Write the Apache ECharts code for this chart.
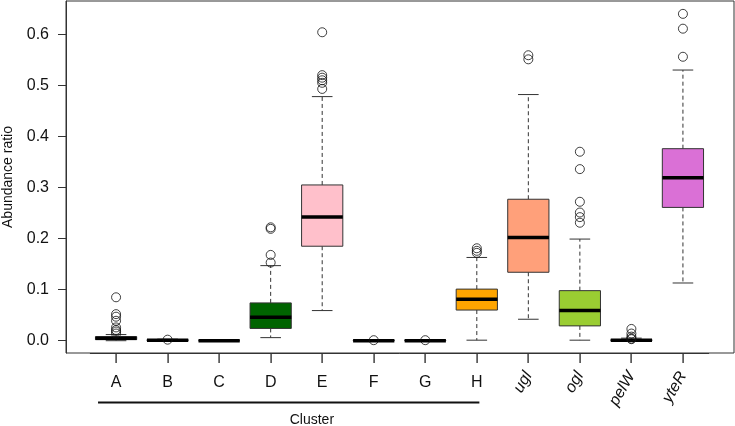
<!DOCTYPE html>
<html>
<head>
<meta charset="utf-8">
<script src="https://cdn.jsdelivr.net/npm/echarts@6/dist/echarts.min.js"></script>
<style>
  html, body { margin: 0; padding: 0; background: #fff; }
  #chart { width: 735px; height: 426px; }
</style>
</head>
<body>
<div id="chart"></div>
<script>
// categories and box statistics
const categories = ['A', 'B', 'C', 'D', 'E', 'F', 'G', 'H', 'ugl', 'ogl', 'pelW', 'yteR'];
const italicCats = ['ugl', 'ogl', 'pelW', 'yteR'];
const lowerWhisker = [0, 0, 0, 0.006, 0.059, 0, 0, 0.001, 0.042, 0.001, 0, 0.113];
const q1 =           [0.002, 0, 0, 0.024, 0.185, 0, 0, 0.060, 0.134, 0.029, 0, 0.261];
const medians =      [0.005, 0.001, 0, 0.046, 0.242, 0, 0, 0.081, 0.202, 0.059, 0.001, 0.319];
const q3 =           [0.008, 0.002, 0, 0.074, 0.305, 0.001, 0.001, 0.101, 0.277, 0.098, 0.002, 0.376];
const upperWhisker = [0.012, 0.003, 0, 0.147, 0.478, 0.001, 0.001, 0.163, 0.482, 0.199, 0.005, 0.530];
const boxColors = ['#ffffff', '#ffffff', '#ffffff', '#006400', '#ffc0cb', '#ffffff', '#ffffff',
                   '#ffa500', '#ffa07a', '#9acd32', '#ffffff', '#da70d6'];

// outliers per category
const outA = [0.085, 0.052, 0.047, 0.039, 0.026, 0.021, 0.018, 0.014];
const outB = [0.002];
const outD = [0.222, 0.219, 0.168, 0.153];
const outE = [0.604, 0.52, 0.515, 0.51, 0.505, 0.493];
const outF = [0.001];
const outG = [0.001];
const outH = [0.181, 0.176, 0.172];
const outUgl = [0.559, 0.551];
const outOgl = [0.370, 0.336, 0.272, 0.251, 0.242, 0.231];
const outPelW = [0.023, 0.014, 0.008, 0.004, 0.003];
const outYteR = [0.640, 0.611, 0.556];

const yTicks = [0, 0.1, 0.2, 0.3, 0.4, 0.5, 0.6];

const outliers = [];
[['A', outA], ['B', outB], ['D', outD], ['E', outE], ['F', outF], ['G', outG], ['H', outH],
 ['ugl', outUgl], ['ogl', outOgl], ['pelW', outPelW], ['yteR', outYteR]].forEach(([c, arr]) => {
  arr.forEach(v => outliers.push([c, v]));
});

const boxData = categories.map((c, i) => [i, lowerWhisker[i], q1[i], medians[i], q3[i], upperWhisker[i]]);

const FONT = '"Liberation Sans", Arial, Helvetica, sans-serif';
const gridPos = { left: 90.3, right: 26.3, top: 1, bottom: 73, outerBoundsMode: 'none', containLabel: false };

function renderBox(params, api) {
  const idx = api.value(0);
  const band = api.size([1, 0])[0];
  const half = band * 0.4, cap = band * 0.2;
  const p = k => api.coord([idx, api.value(k)]);
  const lo = p(1), b1 = p(2), md = p(3), b3 = p(4), hi = p(5);
  const cx = lo[0];
  const dash = { stroke: '#333', lineWidth: 1, lineDash: [4, 3] };
  const solid = { stroke: '#333', lineWidth: 1 };
  return {
    type: 'group',
    children: [
      { type: 'line', shape: { x1: cx, y1: b3[1], x2: cx, y2: hi[1] }, style: dash },
      { type: 'line', shape: { x1: cx, y1: b1[1], x2: cx, y2: lo[1] }, style: dash },
      { type: 'line', shape: { x1: cx - cap, y1: hi[1], x2: cx + cap, y2: hi[1] }, style: solid },
      { type: 'line', shape: { x1: cx - cap, y1: lo[1], x2: cx + cap, y2: lo[1] }, style: solid },
      { type: 'rect', shape: { x: cx - half, y: b3[1], width: half * 2, height: b1[1] - b3[1] },
        style: { fill: boxColors[idx], stroke: '#333', lineWidth: 1 } },
      { type: 'line', shape: { x1: cx - half, y1: md[1], x2: cx + half, y2: md[1] },
        style: { stroke: '#000', lineWidth: 3.5 } }
    ]
  };
}

const chart = echarts.init(document.getElementById('chart'));
const option = {
  animation: false,
  backgroundColor: '#fff',
  grid: [Object.assign({}, gridPos), Object.assign({}, gridPos)],
  xAxis: [{
    type: 'category',
    gridIndex: 0,
    data: categories,
    position: 'bottom',
    axisLine: { show: true, onZero: false, lineStyle: { color: '#333', width: 1 } },
    axisTick: { show: false },
    axisLabel: {
      interval: 0, margin: 22, fontSize: 16, fontFamily: FONT, color: '#111',
      formatter: v => italicCats.includes(v) ? '' : v
    }
  }, {
    type: 'category',
    gridIndex: 1,
    data: categories,
    position: 'bottom',
    axisLine: { show: false, onZero: false },
    axisTick: { show: false },
    axisLabel: {
      interval: 0, margin: 20, fontSize: 16, fontFamily: FONT, color: '#111', fontStyle: 'italic', rotate: 60,
      formatter: v => italicCats.includes(v) ? v : ''
    }
  }],
  yAxis: [{
    type: 'value',
    gridIndex: 0,
    min: -0.0241,
    max: 0.6652,
    offset: 24.3,
    name: 'Abundance ratio',
    nameLocation: 'middle',
    nameGap: 51,
    nameTextStyle: { fontSize: 14, fontFamily: FONT, color: '#111' },
    axisLine: { show: true, onZero: false, lineStyle: { color: '#333' } },
    axisTick: { show: true, length: 8, customValues: yTicks, lineStyle: { color: '#333' } },
    axisLabel: { customValues: yTicks, fontSize: 16, fontFamily: FONT, color: '#111', margin: 17,
                 formatter: v => v.toFixed(1) },
    splitLine: { show: false }
  }, {
    type: 'value',
    gridIndex: 1,
    min: -0.0241,
    max: 0.6652,
    show: false
  }],
  graphic: [{
    type: 'rect',
    shape: { x: 66, y: 1, width: 668, height: 352 },
    style: { fill: 'none', stroke: '#333', lineWidth: 1 },
    silent: true
  }],
  series: [{
    type: 'custom',
    xAxisIndex: 0,
    yAxisIndex: 0,
    renderItem: renderBox,
    encode: { x: 0, y: [1, 2, 3, 4, 5] },
    data: boxData
  }, {
    type: 'scatter',
    xAxisIndex: 0,
    yAxisIndex: 0,
    clip: false,
    symbol: 'circle',
    symbolSize: 9,
    itemStyle: { color: 'rgba(255,255,255,0)', borderColor: '#111', borderWidth: 1 },
    data: outliers,
    z: 5
  }]
};
chart.setOption(option);

// x ticks and the "Cluster" bracket, placed with the x axis scale
const px = c => chart.convertToPixel({ xAxisIndex: 0 }, c);
const band = px('B') - px('A');
const axisY = 353;
const lineY = 402.5;
const tickMarks = categories.map(c => ({
  type: 'rect',
  shape: { x: Math.round(px(c)) - 0.6, y: axisY, width: 1.4, height: 10 },
  style: { fill: '#333' },
  z: 100,
  silent: true
}));
chart.setOption({
  graphic: [option.graphic[0], ...tickMarks, {
    type: 'line',
    shape: { x1: px('A') - 0.35 * band, y1: lineY, x2: px('H') + 0.05 * band, y2: lineY },
    style: { stroke: '#111', lineWidth: 2 },
    silent: true
  }, {
    type: 'text',
    x: px('A') + 3.8 * band,
    y: lineY + 17.5,
    style: { text: 'Cluster', fontSize: 14, fontFamily: FONT, fill: '#111', align: 'center', verticalAlign: 'middle' },
    silent: true
  }]
});
</script>
</body>
</html>
